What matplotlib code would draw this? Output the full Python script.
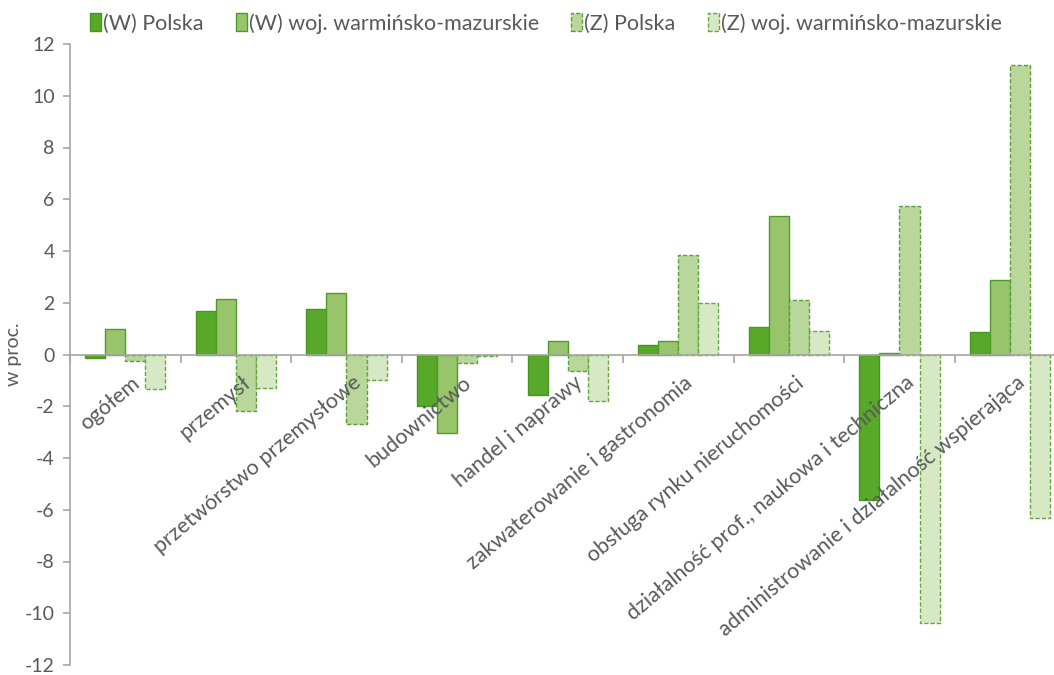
import matplotlib
matplotlib.use("Agg")
import matplotlib.pyplot as plt
import numpy as np

plt.rcParams['font.family'] = ['Lato', 'DejaVu Sans']

categories = [
    "ogółem",
    "przemysł",
    "przetwórstwo przemysłowe",
    "budownictwo",
    "handel i naprawy",
    "zakwaterowanie i gastronomia",
    "obsługa rynku nieruchomości",
    "działalność prof., naukowa i techniczna",
    "administrowanie i działalność wspierająca",
]

series_names = ["(W) Polska", "(W) woj. warmińsko-mazurskie",
                "(Z) Polska", "(Z) woj. warmińsko-mazurskie"]

w_polska = [-0.15, 1.70, 1.77, -2.0, -1.58, 0.35, 1.08, -5.64, 0.86]
w_wm = [0.97, 2.15, 2.38, -3.04, 0.51, 0.51, 5.37, 0.06, 2.89]
z_polska = [-0.27, -2.2, -2.7, -0.33, -0.62, 3.86, 2.11, 5.72, 11.17]
z_wm = [-1.35, -1.29, -1.0, -0.05, -1.8, 1.98, 0.92, -10.38, -6.31]

y_ticks = list(range(-12, 13, 2))

faces = ["#58a82a", "#98c46c", "#b9d79a", "#d7e8c5"]
edges = ["#4a9422", "#4f9a2a", "#5a9e36", "#64a63e"]
styles = ["solid", "solid", (0, (3, 1.5)), (0, (3, 1.5))]

fig = plt.figure(figsize=(10.54, 6.75), dpi=100)
ax = fig.add_axes([70 / 1054, 10 / 675, 995.4 / 1054, 621 / 675])

x = np.arange(len(categories))
bw = 0.1815
offsets = [-1.5 * bw, -0.5 * bw, 0.5 * bw, 1.5 * bw]
handles = []
for vals, off, fc, ec, ls, name in zip([w_polska, w_wm, z_polska, z_wm], offsets,
                                         faces, edges, styles, series_names):
    bars = ax.bar(x + off, vals, width=bw, color=fc, edgecolor=ec, linewidth=1.0,
                  linestyle=ls, label=name, zorder=2)
    handles.append(bars)

ax.set_xlim(-0.5, len(categories) - 0.5)
ax.set_ylim(-12, 12)
ax.set_yticks(y_ticks)
ax.set_yticklabels([str(v) for v in y_ticks])

gray = "#a6a6a6"
for s in ["top", "right"]:
    ax.spines[s].set_visible(False)
ax.spines["left"].set_color(gray)
ax.spines["bottom"].set_color(gray)
ax.spines["bottom"].set_position(("data", 0))
ax.spines["left"].set_linewidth(1.2)
ax.spines["bottom"].set_linewidth(1.2)
ax.spines["bottom"].set_zorder(3)

ax.set_xticks(np.arange(-0.5, len(categories), 1.0))
ax.set_xticklabels([])
ax.tick_params(axis="x", direction="out", length=6, color=gray, width=1.2)
ax.tick_params(axis="y", direction="out", length=5, color=gray, width=1.2,
               labelsize=14, labelcolor="#595959", pad=6)

for i, lab in enumerate(categories):
    ax.annotate(lab, xy=(i, 0), xytext=(4, -13), textcoords="offset points",
                rotation=40, rotation_mode="anchor", ha="right", va="top",
                fontsize=15.5, color="#595959", zorder=5)

ax.set_ylabel("w proc.", fontsize=14, color="#595959", labelpad=2)

fig.legend(handles=handles, labels=series_names, loc="upper center",
           bbox_to_anchor=(0.518, 1.0), ncol=4, frameon=False, fontsize=15.5,
           labelcolor="#595959", handlelength=0.5, handleheight=0.85,
           handletextpad=0.1, columnspacing=1.5, borderaxespad=0.2)

fig.savefig("out.png", dpi=100)
